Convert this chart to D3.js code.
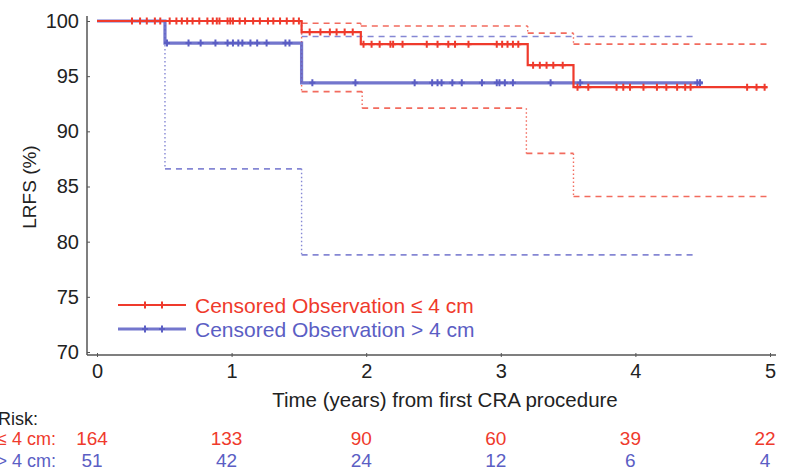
<!DOCTYPE html>
<html>
<head>
<meta charset="utf-8">
<script src="https://cdn.jsdelivr.net/npm/d3@7"></script>
<style>
  html, body { margin: 0; padding: 0; background: #fff; }
  svg { display: block; font-family: "Liberation Sans", Arial, sans-serif; }
</style>
</head>
<body>
<svg id="chart" width="785" height="474"></svg>
<script>
// ---------- data ----------
const timeTicks = [0, 1, 2, 3, 4, 5];
const lrfsTicks = [70, 75, 80, 85, 90, 95, 100];
const riskSmall = [164, 133, 90, 60, 39, 22];
const riskLarge = [51, 42, 24, 12, 6, 4];

// Kaplan-Meier step curves (change times, values, end time)
const smallKMTimes = [0, 1.52, 1.96, 3.2, 3.54];
const smallKMValues = [100, 99.0, 97.9, 96.0, 94.0];
const smallEnd = 4.98;
const smallUpperTimes = [0, 1.52, 1.96, 3.2, 3.54];
const smallUpperValues = [100, 99.8, 99.55, 98.9, 97.9];
const smallLowerTimes = [0, 1.52, 1.97, 3.19, 3.54];
const smallLowerValues = [100, 93.6, 92.1, 88.0, 84.1];

const largeKMTimes = [0, 0.505, 1.52];
const largeKMValues = [100, 98.0, 94.4];
const largeEnd = 4.5;
const largeUpperTimes = [0, 1.52];
const largeUpperValues = [100, 98.6];
const largeUpperEnd = 4.46;
const largeLowerTimes = [0, 0.505, 1.52];
const largeLowerValues = [100, 86.6, 78.8];
const largeLowerEnd = 4.43;

// censored observations (times)
const smallCensor = [0.26,0.32,0.37,0.43,0.47,0.54,0.59,0.63,0.67,0.71,0.76,0.82,0.86,0.89,0.91,0.97,0.99,1.01,1.06,1.10,1.16,1.21,1.27,1.31,1.36,1.41,1.46,1.50,
  1.58,1.66,1.73,1.78,1.84,1.90,
  1.98,2.04,2.10,2.18,2.20,2.27,2.45,2.53,2.61,2.66,2.76,2.97,3.01,3.05,3.09,3.13,
  3.24,3.29,3.34,3.39,3.46,
  3.57,3.65,3.86,3.91,3.96,4.06,4.16,4.23,4.31,4.37,4.41,4.83,4.90,4.96];
const largeCensor = [0.52,0.68,0.77,0.88,0.97,1.01,1.05,1.08,1.14,1.19,1.26,1.40,1.43,
  1.60,1.92,2.36,2.49,2.53,2.56,2.64,2.71,2.86,2.97,2.99,3.03,3.09,3.37,3.59,4.46,4.48];

const legendLabels = ["Censored Observation \u2264 4 cm", "Censored Observation > 4 cm"];
const riskRowLabels = ["\u2264 4 cm:", "> 4 cm:"];

// ---------- styles ----------
const RED = "#ef3a2c", BLUE = "#5b5ec4";
const RED_CI = "#f26b5e", BLUE_CI = "#8587d4";

const svg = d3.select("#chart");
const x = d3.scaleLinear().domain([0, 5]).range([97, 770]);
const y = d3.scaleLinear().domain([70, 100]).range([352, 21]);
const axisX = 87, axisY = 355;

// axes lines
svg.append("line").attr("x1", axisX).attr("x2", axisX).attr("y1", axisY).attr("y2", 16)
  .attr("stroke", "#555").attr("stroke-width", 1.5);
svg.append("line").attr("x1", axisX).attr("x2", 776).attr("y1", axisY).attr("y2", axisY)
  .attr("stroke", "#555").attr("stroke-width", 1.5);

// y ticks
const yAxis = d3.axisLeft(y).tickValues(lrfsTicks).tickSize(-3).tickPadding(8).tickFormat(d3.format("d"));
const gy = svg.append("g").attr("transform", `translate(${axisX},0)`).call(yAxis);
gy.select(".domain").remove();
gy.selectAll("line").attr("stroke", "#555");
gy.selectAll("text").attr("font-size", 20).attr("fill", "#222")
  .attr("font-family", "Liberation Sans, Arial, sans-serif");

// x ticks
const xAxis = d3.axisBottom(x).tickValues(timeTicks).tickSize(4).tickPadding(7).tickFormat(d3.format("d"));
const gx = svg.append("g").attr("transform", `translate(0,${axisY - 2})`).call(xAxis);
gx.select(".domain").remove();
gx.selectAll("line").attr("stroke", "#555");
gx.selectAll("text").attr("font-size", 20).attr("fill", "#222")
  .attr("font-family", "Liberation Sans, Arial, sans-serif");

// axis titles
svg.append("text").attr("x", 445).attr("y", 407).attr("text-anchor", "middle")
  .attr("font-size", 20.5).attr("fill", "#222").text("Time (years) from first CRA procedure");
svg.append("text").attr("transform", "translate(36,187) rotate(-90)").attr("text-anchor", "middle")
  .attr("font-size", 19).attr("fill", "#222").text("LRFS (%)");

// step helpers
function stepPoints(times, values, end) {
  const pts = [];
  times.forEach((t, i) => {
    if (i > 0) pts.push([t, values[i - 1]]);
    pts.push([t, values[i]]);
  });
  pts.push([end, values[values.length - 1]]);
  return pts;
}
function drawCI(times, values, end, color) {
  const g = svg.append("g");
  times.forEach((t, i) => {
    const t2 = i < times.length - 1 ? times[i + 1] : end;
    g.append("line").attr("x1", x(t)).attr("x2", x(t2)).attr("y1", y(values[i])).attr("y2", y(values[i]))
      .attr("stroke", color).attr("stroke-width", 1.6).attr("stroke-dasharray", "6,5");
    if (i > 0) {
      g.append("line").attr("x1", x(t)).attr("x2", x(t)).attr("y1", y(values[i - 1])).attr("y2", y(values[i]))
        .attr("stroke", color).attr("stroke-width", 1.4).attr("stroke-dasharray", "1.5,2.5");
    }
  });
}
const line = d3.line().x(d => x(d[0])).y(d => y(d[1]));

// confidence bands
drawCI(largeUpperTimes, largeUpperValues, largeUpperEnd, BLUE_CI);
drawCI(largeLowerTimes, largeLowerValues, largeLowerEnd, BLUE_CI);
drawCI(smallUpperTimes, smallUpperValues, smallEnd, RED_CI);
drawCI(smallLowerTimes, smallLowerValues, smallEnd, RED_CI);

// KM curves
function valueAt(times, values, t) {
  let v = values[0];
  times.forEach((tt, i) => { if (t >= tt) v = values[i]; });
  return v;
}
const cross = "M0,-3.5V3.5M-3,0H3";

svg.append("path").datum(stepPoints(largeKMTimes, largeKMValues, largeEnd)).attr("d", line)
  .attr("fill", "none").attr("stroke", BLUE).attr("stroke-width", 3.2).attr("stroke-opacity", 0.85);
svg.append("g").selectAll("path").data(largeCensor).join("path")
  .attr("transform", d => `translate(${x(d)},${y(valueAt(largeKMTimes, largeKMValues, d))})`)
  .attr("d", cross).attr("stroke", BLUE).attr("stroke-width", 2).attr("fill", "none");

svg.append("path").datum(stepPoints(smallKMTimes, smallKMValues, smallEnd)).attr("d", line)
  .attr("fill", "none").attr("stroke", RED).attr("stroke-width", 2.2);
svg.append("g").selectAll("path").data(smallCensor).join("path")
  .attr("transform", d => `translate(${x(d)},${y(valueAt(smallKMTimes, smallKMValues, d))})`)
  .attr("d", cross).attr("stroke", RED).attr("stroke-width", 2).attr("fill", "none");

// legend
const legColors = [RED, BLUE];
const legY = [305, 329];
legendLabels.forEach((lab, i) => {
  const g = svg.append("g");
  g.append("line").attr("x1", 118).attr("x2", 186).attr("y1", legY[i]).attr("y2", legY[i])
    .attr("stroke", legColors[i]).attr("stroke-width", i === 0 ? 2.2 : 3).attr("stroke-opacity", i === 0 ? 1 : 0.85);
  [145, 162].forEach(px => g.append("path").attr("transform", `translate(${px},${legY[i]})`)
    .attr("d", cross).attr("stroke", legColors[i]).attr("stroke-width", 2).attr("fill", "none"));
  g.append("text").attr("x", 195).attr("y", legY[i] + 7.5).attr("font-size", 21)
    .attr("fill", legColors[i]).text(lab);
});

// at-risk table
svg.append("text").attr("x", 38).attr("y", 425).attr("text-anchor", "end")
  .attr("font-size", 18).attr("fill", "#222").text("At Risk:");
const riskRows = [riskSmall, riskLarge];
const rowY = [445, 467];
riskRows.forEach((row, r) => {
  svg.append("text").attr("x", 56).attr("y", rowY[r]).attr("text-anchor", "end")
    .attr("font-size", 18).attr("fill", legColors[r]).text(riskRowLabels[r]);
  svg.append("g").selectAll("text").data(row).join("text")
    .attr("x", (d, i) => x(timeTicks[i]) - 5).attr("y", rowY[r]).attr("text-anchor", "middle")
    .attr("font-size", 19).attr("fill", legColors[r]).text(d => d);
});
</script>
</body>
</html>
